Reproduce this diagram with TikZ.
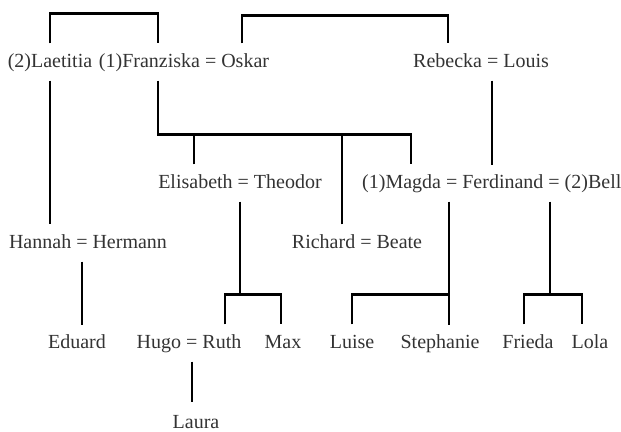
\documentclass[tikz,border=0pt]{standalone}
\usepackage{fontspec}
\setmainfont{Liberation Serif}
\usepackage{tikz}

\begin{document}
\begin{tikzpicture}[x=1pt, y=-1pt,
        person/.style={inner sep=0pt, text height=24pt, text depth=13pt,
                text=black!80, font=\fontsize{20}{24}\selectfont},
        kin/.style={line width=2.6pt}]
        \useasboundingbox (0,0) rectangle (621,431);

        % First generation
        \node[person] (laetitia) at (50,62) {(2)Laetitia};
        \node[person] (oskar) at (184,62) {(1)Franziska = Oskar};
        \node[person] (louis) at (481,62) {Rebecka = Louis};

        % Second generation
        \node[person] (theodor) at (240,183) {Elisabeth = Theodor};
        \node[person, anchor=west] (ferdinand) at (362,183) {(1)Magda = Ferdinand = (2)Bella};
        \node[person] (hermann) at (88,243) {Hannah = Hermann};
        \node[person] (richard) at (357,243) {Richard = Beate};

        % Third generation
        \foreach \name/\x/\txt in {eduard/77/Eduard, ruth/189/Hugo = Ruth, max/283/Max,
                luise/352/Luise, stephanie/440/Stephanie, frieda/528/Frieda, lola/590/Lola} {
            \node[person] (\name) at (\x,343) {\txt};
        }
        \node[person, text depth=2pt] (laura) at (196,417.5) {Laura};

        % Brackets on top
        \draw[kin] (laetitia.north) -- ++(0,-30) -| ([xshift=-26pt]oskar.north);
        \draw[kin] ([xshift=58pt]oskar.north) -- ++(0,-28) -| ([xshift=-33pt]louis.north);

        % Lines of descent
        \draw[kin] (laetitia.south) -- (laetitia.south |- hermann.north);
        \draw[kin] ([xshift=-26pt]oskar.south) -- ++(0,54) -| ([xshift=49pt]ferdinand.north west);
        \draw[kin] ([xshift=-46pt]theodor.north) -- ++(0,-31);
        \draw[kin] ([xshift=-15pt]richard.north) -- ++(0,-91);
        \draw[kin] ([xshift=11pt]louis.south) -- ++(0,84);

        \draw[kin] (theodor.south) -- ++(0,93);
        \draw[kin] ([xshift=36pt]ruth.north) -- ++(0,-30) -| ([xshift=-2pt]max.north);
        \draw[kin] ([xshift=-6pt]hermann.south) -- ++(0,63);
        \draw[kin] ([xshift=87pt]ferdinand.south west) -- ++(0,123);
        \draw[kin] (luise.north) -- ++(0,-30) -- ++(97,0);
        \draw[kin] ([xshift=188pt]ferdinand.south west) -- ++(0,93);
        \draw[kin] ([xshift=-4pt]frieda.north) -- ++(0,-30) -| ([xshift=-8pt]lola.north);
        \draw[kin] ([xshift=3pt]ruth.south) -- ++(0,40);

    \end{tikzpicture}
\end{document}
